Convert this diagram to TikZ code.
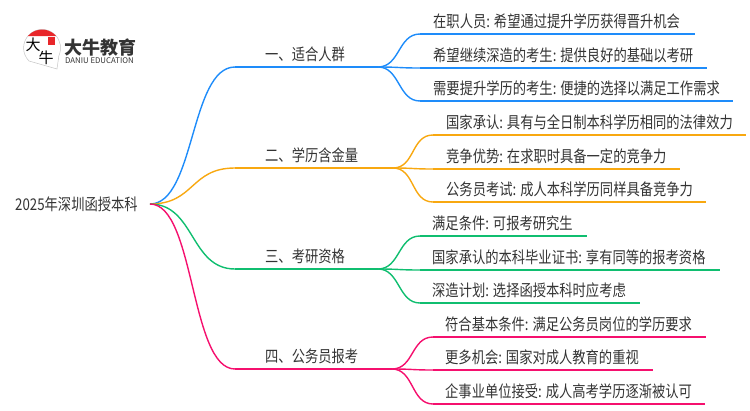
\documentclass[tikz,border=0pt]{standalone}
\usepackage{fontspec}
\setmainfont[FakeStretch=0.82]{Noto Sans CJK SC}
\newfontfamily\logofont{Noto Sans CJK SC}
\usetikzlibrary{positioning}
\definecolor{blueline}{HTML}{1E8CFA}
\definecolor{orangeline}{HTML}{F8A810}
\definecolor{greenline}{HTML}{10BE70}
\definecolor{pinkline}{HTML}{F5106E}
\definecolor{inktext}{HTML}{333333}
\definecolor{logored}{HTML}{E8262A}
\tikzset{
    txt/.style={anchor=base west,inner sep=0pt,text=inktext,font=\fontsize{16.2}{18}\selectfont},
    link/.style={line width=1.4pt,to path={.. controls +(#1,0) and +(-#1,0) .. (\tikztotarget)}},
    bar/.style={line width=1.5pt}
}

\begin{document}
\begin{tikzpicture}[x=1pt,y=-1pt]
            \useasboundingbox (0,0) rectangle (750,410);
            % logo
            \draw[gray!45,line width=.5pt,fill=white] (29,61) arc[start angle=135,end angle=-225+360+250,radius=18.5] -- (57,69) -- cycle;
            \fill[logored] (27.8,36.1) arc[start angle=220,end angle=320,radius=18.5] -- cycle;
            \fill[logored] (47.5,37) rectangle (54.5,45);
            \node[inner sep=0pt,font=\logofont\fontsize{15}{15}\selectfont] (logo_a) at (33,45) {大};
            \node[inner sep=0pt,font=\logofont\fontsize{15}{15}\selectfont] (logo_b) at (46,58) {牛};
            \node[anchor=west,inner sep=0pt,text=inktext,font=\logofont\fontsize{18}{18}\selectfont\bfseries] (logo_t) at (64,47.5) {大牛教育};
            \node[anchor=west,inner sep=0pt,text=inktext,font=\logofont\fontsize{7.8}{8}\selectfont] (logo_e) at (65,60.5) {DANIU EDUCATION};
            % root and branches
            \node[txt,anchor=west] (root) at (15,204) {2025年深圳函授本科};
            \coordinate (r_0) at (150,204);
            \coordinate (b_1) at (235,67);
            \coordinate (f_1) at (378,67);
            \coordinate (b_2) at (235,168);
            \coordinate (f_2) at (393,168);
            \coordinate (b_3) at (235,269);
            \coordinate (f_3) at (378,269);
            \coordinate (b_4) at (235,369);
            \coordinate (f_4) at (392,369);
            \node[txt] (t_1) at (265,60.5) {一、适合人群};
            \node[txt] (t_2) at (265,161.5) {二、学历含金量};
            \node[txt] (t_3) at (265,262.5) {三、考研资格};
            \node[txt] (t_4) at (265,362.5) {四、公务员报考};
            % leaves
            \coordinate (s_11) at (420,34);
            \coordinate (e_11) at (695,34);
            \coordinate (s_12) at (420,68);
            \coordinate (e_12) at (707,68);
            \coordinate (s_13) at (420,101);
            \coordinate (e_13) at (733,101);
            \coordinate (s_21) at (433,135);
            \coordinate (e_21) at (746,135);
            \coordinate (s_22) at (433,169);
            \coordinate (e_22) at (680,169);
            \coordinate (s_23) at (433,202);
            \coordinate (e_23) at (706,202);
            \coordinate (s_31) at (420,236);
            \coordinate (e_31) at (587,236);
            \coordinate (s_32) at (420,270);
            \coordinate (e_32) at (720,270);
            \coordinate (s_33) at (420,303);
            \coordinate (e_33) at (640,303);
            \coordinate (s_41) at (433,337);
            \coordinate (e_41) at (706,337);
            \coordinate (s_42) at (433,370);
            \coordinate (e_42) at (653,370);
            \coordinate (s_43) at (433,404);
            \coordinate (e_43) at (705,404);
            \node[txt] (l_11) at (433,27) {在职人员: 希望通过提升学历获得晋升机会};
            \node[txt] (l_12) at (433,61) {希望继续深造的考生: 提供良好的基础以考研};
            \node[txt] (l_13) at (433,94) {需要提升学历的考生: 便捷的选择以满足工作需求};
            \node[txt] (l_21) at (446,128) {国家承认: 具有与全日制本科学历相同的法律效力};
            \node[txt] (l_22) at (446,162) {竞争优势: 在求职时具备一定的竞争力};
            \node[txt] (l_23) at (446,195) {公务员考试: 成人本科学历同样具备竞争力};
            \node[txt] (l_31) at (432,229) {满足条件: 可报考研究生};
            \node[txt] (l_32) at (432,263) {国家承认的本科毕业证书: 享有同等的报考资格};
            \node[txt] (l_33) at (432,296) {深造计划: 选择函授本科时应考虑};
            \node[txt] (l_41) at (445,330) {符合基本条件: 满足公务员岗位的学历要求};
            \node[txt] (l_42) at (445,363) {更多机会: 国家对成人教育的重视};
            \node[txt] (l_43) at (445,397) {企事业单位接受: 成人高考学历逐渐被认可};
            \path[blueline]
                (r_0)
                    edge [link=45] (b_1)
                (f_1)
                    edge [link=22] (s_11)
                    edge [link=22] (s_12)
                    edge [link=22] (s_13);
            \path[orangeline]
                (r_0)
                    edge [link=45] (b_2)
                (f_2)
                    edge [link=22] (s_21)
                    edge [link=22] (s_22)
                    edge [link=22] (s_23);
            \path[greenline]
                (r_0)
                    edge [link=45] (b_3)
                (f_3)
                    edge [link=22] (s_31)
                    edge [link=22] (s_32)
                    edge [link=22] (s_33);
            \path[pinkline]
                (r_0)
                    edge [link=45] (b_4)
                (f_4)
                    edge [link=22] (s_41)
                    edge [link=22] (s_42)
                    edge [link=22] (s_43);
            \draw[bar,blueline] (b_1) -- (f_1) (s_11) -- (e_11) (s_12) -- (e_12) (s_13) -- (e_13);
            \draw[bar,orangeline] (b_2) -- (f_2) (s_21) -- (e_21) (s_22) -- (e_22) (s_23) -- (e_23);
            \draw[bar,greenline] (b_3) -- (f_3) (s_31) -- (e_31) (s_32) -- (e_32) (s_33) -- (e_33);
            \draw[bar,pinkline] (b_4) -- (f_4) (s_41) -- (e_41) (s_42) -- (e_42) (s_43) -- (e_43);
        \end{tikzpicture}
\end{document}
